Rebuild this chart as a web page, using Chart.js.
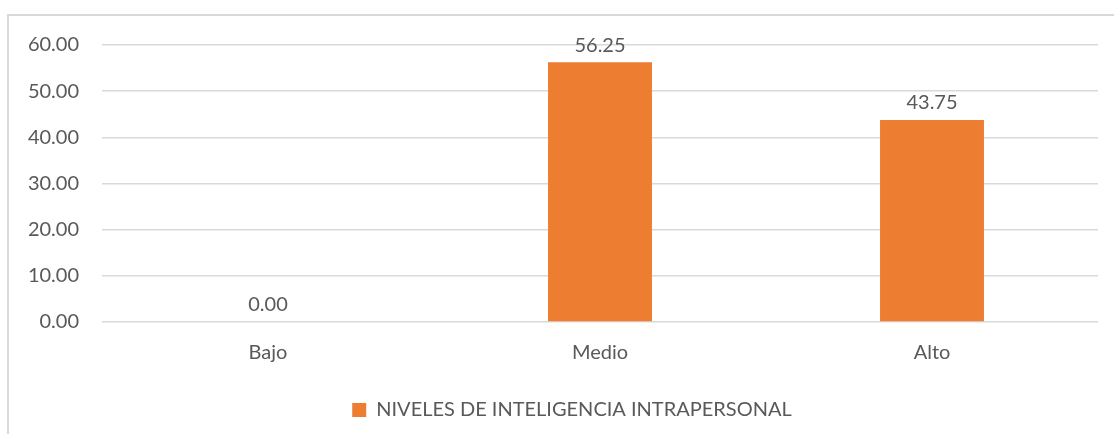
<!DOCTYPE html>
<html>
<head>
<meta charset="utf-8">
<style>
  body { margin: 0; background: #fff; }
  #frame { position: absolute; left: 7px; top: 14px; width: 1130px; height: 450px; border: 2px solid #d9d9d9; }
  #wrap { position: absolute; left: 0; top: 0; width: 1114px; height: 434px; }
</style>
</head>
<body>
<div id="frame"></div>
<div id="wrap"><canvas id="myChart"></canvas></div>
<script src="https://cdn.jsdelivr.net/npm/chart.js"></script>
<script>
const categories = ["Bajo", "Medio", "Alto"];
const valores = [0.00, 56.25, 43.75];
const serieNombre = "NIVELES DE INTELIGENCIA INTRAPERSONAL";
const yTicks = [0, 10, 20, 30, 40, 50, 60];

const fuente = "Lato, 'Open Sans', sans-serif";
const gris = "#595959";

// etiquetas de datos encima de cada barra
const etiquetas = {
    id: "etiquetas",
    afterLayout(chart) {
        // la leyenda del original va algo corrida a la derecha
        chart.legend.left += 23;
        chart.legend.right += 23;
    },
    afterDatasetsDraw(chart) {
        const ctx = chart.ctx;
        ctx.save();
        ctx.font = "20px " + fuente;
        ctx.fillStyle = gris;
        ctx.textAlign = "center";
        ctx.textBaseline = "bottom";
        chart.getDatasetMeta(0).data.forEach((bar, i) => {
            ctx.fillText(valores[i].toFixed(2), bar.x, bar.y - 7);
        });
        ctx.restore();
    }
};

new Chart(document.getElementById("myChart"), {
    type: "bar",
    data: {
        labels: categories,
        datasets: [{
            label: serieNombre,
            data: valores,
            backgroundColor: "#ED7D31",
            categoryPercentage: 1,
            barPercentage: 0.313
        }]
    },
    options: {
        responsive: true,
        maintainAspectRatio: false,
        animation: false,
        layout: { padding: { left: 0, right: 16, top: 45, bottom: 4 } },
        scales: {
            y: {
                min: 0,
                max: 60,
                afterBuildTicks: s => { s.ticks = yTicks.map(v => ({ value: v })); },
                afterFit: s => { s.width = 102; },
                grid: { color: "#d9d9d9", lineWidth: 1.5, drawTicks: false },
                border: { display: false },
                ticks: {
                    padding: 23,
                    color: gris,
                    font: { family: fuente, size: 20 },
                    callback: v => v.toFixed(2)
                }
            },
            x: {
                grid: { display: false, drawTicks: false },
                border: { display: false },
                ticks: { padding: 19, color: gris, font: { family: fuente, size: 20 } }
            }
        },
        plugins: {
            legend: {
                position: "bottom",
                labels: {
                    boxWidth: 14,
                    boxHeight: 14,
                    color: gris,
                    font: { family: fuente, size: 20 },
                    padding: 16
                }
            },
            tooltip: { enabled: false }
        }
    },
    plugins: [etiquetas]
});
</script>
</body>
</html>
